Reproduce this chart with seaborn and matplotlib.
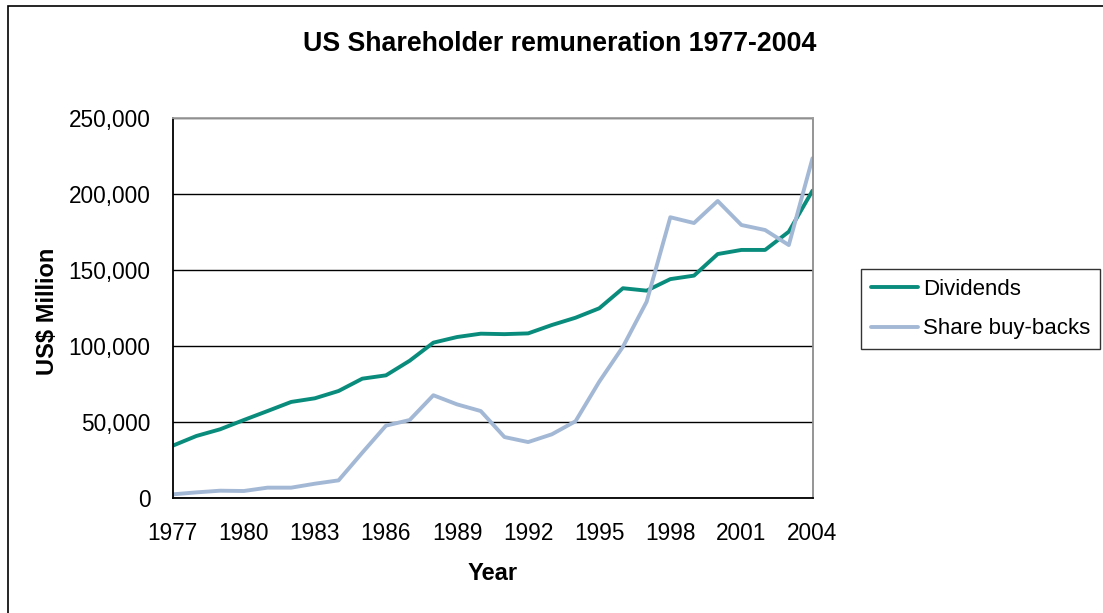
import matplotlib
matplotlib.use("Agg")
import matplotlib.pyplot as plt
import seaborn as sns
import pandas as pd
from matplotlib.patches import Rectangle
from matplotlib.ticker import FuncFormatter

# ---- data (US$ million) ----
years = list(range(1977, 2005))
dividends = [34600, 41000, 45400, 51500, 57400, 63400, 65800, 70600, 78700, 80900,
             90500, 102400, 106100, 108300, 108000, 108500, 114000, 118800, 125000, 138200,
             136600, 144200, 146500, 160700, 163400, 163400, 175400, 202400]
buybacks = [2600, 3900, 5000, 4800, 7000, 7000, 9600, 11800, 30000, 47800,
            51500, 67800, 61800, 57400, 40300, 37000, 42100, 50700, 76700, 99700,
            129300, 184900, 181100, 195600, 179800, 176500, 166600, 223700]
series_names = ["Dividends", "Share buy-backs"]
x_ticks = list(range(1977, 2005, 3))
y_ticks = [0, 50000, 100000, 150000, 200000, 250000]

df = pd.DataFrame({
    "Year": years * 2,
    "Value": dividends + buybacks,
    "Series": [series_names[0]] * len(years) + [series_names[1]] * len(years),
})

sns.set_theme(style="white")
plt.rcParams["font.family"] = ["Liberation Sans", "DejaVu Sans"]
plt.rcParams["text.color"] = "black"
plt.rcParams["axes.labelcolor"] = "black"
plt.rcParams["xtick.color"] = "black"
plt.rcParams["ytick.color"] = "black"

W, H = 1103, 613
fig = plt.figure(figsize=(W / 100, H / 100), dpi=100)
ax = fig.add_axes([172.7 / W, 1 - 498.3 / H, (812.5 - 172.7) / W, (498.3 - 118.3) / H])

palette = {"Dividends": "#0A8C7D", "Share buy-backs": "#A3B8D5"}
sns.lineplot(data=df, x="Year", y="Value", hue="Series", hue_order=series_names,
             palette=palette, linewidth=2.8, ax=ax, legend=False)

ax.set_xlim(1977, 2004)
ax.set_ylim(0, 250000)
ax.set_xticks(x_ticks)
ax.set_yticks(y_ticks)
ax.yaxis.set_major_formatter(FuncFormatter(lambda v, p: f"{int(v):,}"))
ax.tick_params(axis="both", direction="out", length=6, width=1, color="black",
               labelsize=16.3, labelcolor="black")
ax.tick_params(axis="y", pad=10)
ax.tick_params(axis="x", pad=11)
ax.grid(axis="y", color="black", linewidth=1)
ax.set_axisbelow(True)
for side in ["left", "bottom"]:
    ax.spines[side].set_color("black")
    ax.spines[side].set_linewidth(1.3)
ax.spines["top"].set_color("#A0A0A0")
ax.spines["top"].set_linewidth(1.3)
ax.spines["right"].set_color("#8C8C8C")
ax.spines["right"].set_linewidth(1.3)

ax.set_xlabel("")
ax.set_ylabel("")
fig.text(493 / W, 1 - 573 / H, "Year", ha="center", va="center",
         fontsize=17, fontweight="bold", color="black")
fig.text(47 / W, 1 - 311 / H, "US$ Million", ha="center", va="center",
         rotation=90, fontsize=17, fontweight="bold", color="black")
fig.text(560 / W, 1 - 44 / H, "US Shareholder remuneration 1977-2004",
         ha="center", va="center", fontsize=19.3, fontweight="bold", color="black")

handles = [plt.Line2D([], [], color=palette[n], linewidth=2.8) for n in series_names]
leg = ax.legend(handles, series_names, loc="center left",
                bbox_to_anchor=(861 / W, 1 - 309 / H), bbox_transform=fig.transFigure,
                frameon=True, fancybox=False, edgecolor="black", fontsize=16,
                handlelength=2.1, handletextpad=0.25, labelspacing=0.85,
                borderpad=0.45, borderaxespad=0)
leg.get_frame().set_linewidth(1)
for t in leg.get_texts():
    t.set_color("black")

# outer chart-area border (cut off at right and bottom edges)
fig.patches.append(Rectangle((8 / W, -0.2), 1.2, 1.2 - 6 / H, transform=fig.transFigure,
                             fill=False, edgecolor="black", linewidth=1.2))

fig.savefig("out.png", dpi=100, facecolor="white")
